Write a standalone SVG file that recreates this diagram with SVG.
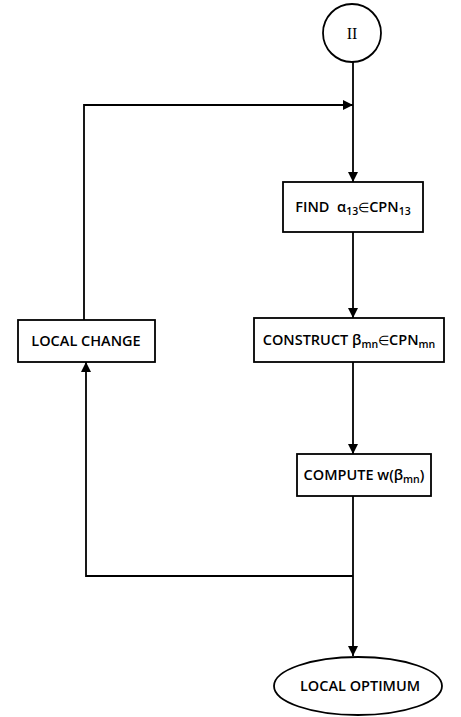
<svg xmlns="http://www.w3.org/2000/svg" width="461" height="717" viewBox="0 0 461 717">
  <style>
    .box { fill: #ffffff; stroke: #000000; stroke-width: 1.8; }
    .wire { fill: none; stroke: #000000; stroke-width: 1.8; }
    .lbl { font-family: "Open Sans", "Liberation Sans", sans-serif; font-weight: 600; font-size: 14.5px; fill: #000000; }
    .sub { font-size: 10.5px; }
    .sym { font-weight: 400; font-size: 13px; }
    .roman { font-family: "Liberation Serif", serif; font-size: 16px; fill: #000000; }
  </style>
  <defs>
    <marker id="head" viewBox="0 0 10 10" refX="10" refY="5" markerWidth="11" markerHeight="10" markerUnits="userSpaceOnUse" orient="auto">
      <path d="M0,0 L10,5 L0,10 z" fill="#000000"/>
    </marker>
  </defs>
  <rect width="461" height="717" fill="#ffffff"/>

  <g id="connectors">
    <!-- entry from connector II -->
    <path class="wire" d="M353,62 V182" marker-end="url(#head)"/>
    <!-- loop back from local change -->
    <path class="wire" d="M84,320 V105 H353" marker-end="url(#head)"/>
    <path class="wire" d="M353,232 V318" marker-end="url(#head)"/>
    <path class="wire" d="M353,362 V454" marker-end="url(#head)"/>
    <path class="wire" d="M353,496 V656" marker-end="url(#head)"/>
    <path class="wire" d="M353,576 H86 V362" marker-end="url(#head)"/>
  </g>

  <g id="start">
    <circle cx="352" cy="33" r="29" fill="#ffffff" stroke="#000000" stroke-width="1.8"/>
    <text class="roman" x="352" y="39" text-anchor="middle">II</text>
  </g>

  <g id="find">
    <rect class="box" x="283" y="182" width="140" height="50"/>
    <text class="lbl" x="353" y="212" text-anchor="middle">FIND&#160; α<tspan class="sub" dy="3">13</tspan><tspan class="sym" dy="-3">∈</tspan>CPN<tspan class="sub" dy="3">13</tspan></text>
  </g>

  <g id="construct">
    <rect class="box" x="254" y="318" width="190" height="44"/>
    <text class="lbl" x="349" y="345" text-anchor="middle">CONSTRUCT β<tspan class="sub" dy="3">mn</tspan><tspan class="sym" dy="-3">∈</tspan>CPN<tspan class="sub" dy="3">mn</tspan></text>
  </g>

  <g id="local-change">
    <rect class="box" x="18" y="320" width="137" height="42"/>
    <text class="lbl" x="86" y="346" text-anchor="middle">LOCAL CHANGE</text>
  </g>

  <g id="compute">
    <rect class="box" x="297" y="454" width="134" height="42"/>
    <text class="lbl" x="364" y="480" text-anchor="middle">COMPUTE w(β<tspan class="sub" dy="3">mn</tspan><tspan dy="-3">)</tspan></text>
  </g>

  <g id="local-optimum">
    <ellipse cx="358" cy="686" rx="84" ry="29" fill="#ffffff" stroke="#000000" stroke-width="1.8"/>
    <text class="lbl" x="360" y="691" text-anchor="middle">LOCAL OPTIMUM</text>
  </g>
</svg>
